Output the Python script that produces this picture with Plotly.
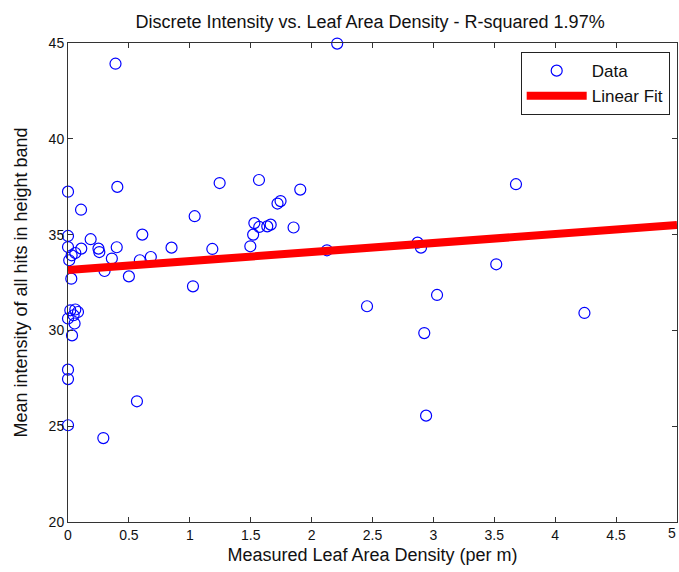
import plotly.graph_objects as go

# Measured leaf area density (per m) and mean intensity
lad = [0.39, 2.21, 0.00, 0.405, 1.245, 1.568, 1.72, 1.745, 0.107, 1.04,
       1.53, 1.57, 1.636, 1.664, 1.52, 0.00, 0.186, 0.61, 0.00, 0.109,
       0.25, 0.257, 0.40, 0.36, 0.85, 1.185, 1.497, 0.68, 0.59, 0.30,
       0.50, 0.027, 0.01, 0.03, 0.06, 1.026, 0.019, 0.06, 0.082, 0.046,
       0.00, 0.054, 0.033, 0.00, 0.00, 0.566, 0.00, 0.29, 1.907, 1.852,
       2.126, 2.87, 2.898, 3.678, 3.516, 2.455, 3.03, 2.925, 2.94, 4.24]
intensity = [43.92, 44.97, 37.24, 37.49, 37.69, 37.85, 36.62, 36.75, 36.30, 35.96,
             35.6, 35.4, 35.43, 35.52, 35.0, 34.93, 34.76, 35.0, 34.35, 34.27,
             34.27, 34.09, 34.34, 33.75, 34.32, 34.25, 34.39, 33.83, 33.66, 33.1,
             32.82, 32.70, 33.66, 33.92, 34.04, 32.30, 31.05, 31.09, 30.96, 30.79,
             30.62, 30.36, 29.74, 27.95, 27.46, 26.30, 25.05, 24.38, 37.35, 35.37,
             34.18, 34.58, 34.32, 37.63, 33.45, 31.26, 31.85, 29.86, 25.55, 30.91]

fit_intercept = 33.15
fit_slope = 0.47
fit_x = [0, 5]
fit_y = [fit_intercept + fit_slope * v for v in fit_x]

x_ticks = [0, 0.5, 1, 1.5, 2, 2.5, 3, 3.5, 4, 4.5, 5]
y_ticks = [20, 25, 30, 35, 40, 45]

font = "Liberation Sans, Arial, sans-serif"
txt = "#111111"

fig = go.Figure()
fig.add_trace(go.Scatter(
    x=lad, y=intensity, mode="markers", name="Data",
    marker=dict(symbol="circle-open", size=11, color="#0000ff",
                line=dict(width=1.2, color="#0000ff")),
    cliponaxis=False,
))
fig.add_trace(go.Scatter(
    x=fit_x, y=fit_y, mode="lines", name="Linear Fit",
    line=dict(color="#ff0000", width=8),
))

axis_common = dict(
    showgrid=False, zeroline=False, showline=True, linecolor="#333333",
    linewidth=1, mirror="ticks", ticks="inside", ticklen=5,
    tickcolor="#333333", tickfont=dict(family=font, size=14, color=txt),
)

# last x tick label is drawn as an annotation so it stays visible at the page edge
x_ticktext = [f"{v:g}" for v in x_ticks[:-1]] + [""]

fig.update_layout(
    width=679, height=572,
    paper_bgcolor="white", plot_bgcolor="white",
    margin=dict(l=68, r=2, t=43, b=50),
    title=dict(text="Discrete Intensity vs. Leaf Area Density - R-squared 1.97%",
               x=0.545, xanchor="center", y=0.962, yanchor="middle",
               font=dict(family=font, size=18, color=txt)),
    xaxis=dict(range=[0, 5], tickvals=x_ticks, ticktext=x_ticktext,
               title=dict(text="Measured Leaf Area Density (per m)", standoff=6,
                          font=dict(family=font, size=18, color=txt)),
               **axis_common),
    yaxis=dict(range=[20, 45], tickvals=y_ticks,
               title=dict(text="Mean intensity of all hits in height band", standoff=16,
                          font=dict(family=font, size=18, color=txt)),
               **axis_common),
    legend=dict(x=0.988, y=0.981, xanchor="right", yanchor="top",
                bgcolor="white", bordercolor="#222222", borderwidth=1,
                itemwidth=60, entrywidth=120, entrywidthmode="pixels",
                font=dict(family=font, size=17, color=txt)),
    showlegend=True,
    annotations=[dict(x=x_ticks[-1], xref="x", y=0, yref="paper", yanchor="top",
                      xanchor="center", xshift=-5, yshift=-1,
                      text=f"{x_ticks[-1]:g}", showarrow=False,
                      font=dict(family=font, size=14, color=txt))],
)

fig.write_html("out.html")
